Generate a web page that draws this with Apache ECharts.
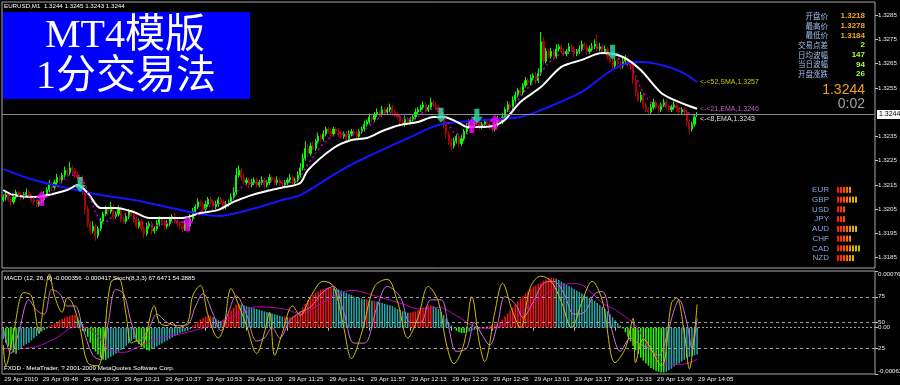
<!DOCTYPE html>
<html><head><meta charset="utf-8">
<script src="https://cdn.jsdelivr.net/npm/echarts@6/dist/echarts.min.js"></script>
<style>html,body{margin:0;padding:0;background:#000}#c{width:900px;height:385px}</style>
</head><body><div id="c"></div>
<script>
// ---------------- DATA (prices in pips above 1.3000) ----------------
const symbolName = 'EURUSD,M1';
const tickLabels = ['29 Apr 2010','29 Apr 09:48','29 Apr 10:05','29 Apr 10:21','29 Apr 10:37','29 Apr 10:53','29 Apr 11:09','29 Apr 11:25','29 Apr 11:41','29 Apr 11:57','29 Apr 12:13','29 Apr 12:29','29 Apr 12:45','29 Apr 13:01','29 Apr 13:17','29 Apr 13:33','29 Apr 13:49','29 Apr 14:05'];
const priceTicks = [1.3185,1.3195,1.3205,1.3215,1.3225,1.3235,1.3255,1.3265,1.3275,1.3285];
const macdTicks = [-0.00062, 0, 0.00076];
const stochTicks = [25, 50, 75];

const opens = [
209,210,211,209,208,210,212,211,210,211,
212,211,209,208,207,208,209,211,213,215,
214,216,218,217,219,221,220,222,221,219,
218,217,212,205,199,196,198,194,197,200,
203,205,204,206,202,203,205,201,200,202,
204,203,201,198,200,197,195,198,199,196,
197,199,201,200,198,199,201,202,200,199,
198,197,199,198,201,204,206,208,207,205,
207,209,208,206,207,209,208,206,207,208,
210,212,219,221,218,216,217,215,216,217,
215,216,217,215,216,218,217,216,217,216,
215,216,217,218,216,217,219,222,226,230,
228,231,230,233,235,234,236,238,237,236,
238,237,236,235,236,234,236,237,236,235,
237,238,240,241,243,242,244,245,244,246,
245,246,247,245,244,243,241,240,242,241,
242,243,245,246,247,248,246,247,249,248,
247,245,244,240,236,233,231,233,235,232,
234,237,239,241,240,242,241,239,240,241,
240,239,238,240,242,241,243,246,248,247,
250,252,254,253,256,258,257,259,260,258,
261,274,266,270,268,270,268,271,272,270,
269,270,272,271,269,270,271,273,272,270,
271,272,273,271,272,270,271,268,266,264,
266,265,264,266,267,265,264,258,253,250,
252,248,246,245,247,249,247,246,248,249,
247,246,247,248,246,245,246,245,241,238,
240,244];
const closes = [
210,211,209,208,210,212,211,210,211,212,
211,209,208,207,208,209,211,213,215,214,
216,218,217,219,221,220,222,221,219,218,
217,212,205,199,196,198,194,197,200,203,
205,204,206,202,203,205,201,200,202,204,
203,201,198,200,197,195,198,199,196,197,
199,201,200,198,199,201,202,200,199,198,
197,199,198,201,204,206,208,207,205,207,
209,208,206,207,209,208,206,207,208,210,
212,219,221,218,216,217,215,216,217,215,
216,217,215,216,218,217,216,217,216,215,
216,217,218,216,217,219,222,226,230,228,
231,230,233,235,234,236,238,237,236,238,
237,236,235,236,234,236,237,236,235,237,
238,240,241,243,242,244,245,244,246,245,
246,247,245,244,243,241,240,242,241,242,
243,245,246,247,248,246,247,249,248,247,
245,244,240,236,233,231,233,235,232,234,
237,239,241,240,242,241,239,240,241,240,
239,238,240,242,241,243,246,248,247,250,
252,254,253,256,258,257,259,260,258,261,
274,266,270,268,270,268,271,272,270,269,
270,272,271,269,270,271,273,272,270,271,
272,273,271,272,270,271,268,266,264,266,
265,264,266,267,265,264,258,253,250,252,
248,246,245,247,249,247,246,248,249,247,
246,247,248,246,245,246,245,241,238,240,
243,244];
const wickUp = [
1,1,0.5,1,1.5,1,0.5,1,1,1.5,
1,0.5,1,1,0.5,1,1.5,1,2,1,
1,1.5,1,1,1.5,1,2.5,1,1,1.5,
1,2,1,1.5,1,2,1,1,1.5,1,
1.5,1,2,1,1,1.5,1,1,1.5,1,
1,1,1.5,1,1,1,1.5,1,1,1,
1.5,1,1,1,1.5,1,1,1.5,1,1,
1,1.5,1,2,1.5,1,1.5,1,1,1.5,
1,1,1,1.5,1,1,1,1.5,1,1.5,
2,3,2,1,1.5,1,1,1.5,1,1,
1,1.5,1,1,1.5,1,1,1.5,1,1,
1,1,1.5,1,1,1.5,2,2,3,2,
1.5,2,1,1.5,1,1.5,1,1,1.5,1,
1,1.5,1,1,1,1.5,1,1,1.5,1,
1,1.5,1,1.5,1,1,1.5,1,1.5,1,
1,1.5,1,1,1,1,1,1.5,1,1,
1,1.5,1,1,1.5,1,1,2,1,1,
1,1.5,1,1,1,1,1.5,1,1,1.5,
1,1.5,1,1,1.5,1,1,1,1,1,
1,1,1,1.5,1,1.5,1,1.5,1,1.5,
1.5,1,1.5,1,1.5,1,1.5,1,1.5,2,
4,2,1.5,1,1.5,1,2,1,1,1.5,
1,1.5,1,1,1,1.5,1.5,1,1,1.5,
1.5,2,4,1.5,1,1.5,1,1,1,1.5,
1,1,1.5,1.5,1,1,1,1,1,1.5,
1,1,1,1.5,1.5,1,1,1,1.5,1,
1,1,1.5,1,1,1,1,1,1,1,
1,1];
const wickDn = [
1,1.5,1,2,1,1,1,1.5,1,1,
1,1,1.5,1,1,1,1,1,1,1.5,
1,1,1.5,1,1,1,1,1.5,1,1,
1,1,2,1.5,1.5,1,2,1,1,1,
1,1.5,1,1.5,1,1,1.5,1,1,1,
1,1.5,1,1,1.5,2,1,1,1.5,1,
1,1,1,1.5,1,1,1,1,1,1.5,
1.5,1,1.5,1,1,1,1,1,1.5,1,
1,1,1.5,1,1,1,1.5,1,1,1,
1,1,1,1.5,1,1,1.5,1,1,1,
1,1,1.5,1,1,1,1,1,1.5,1,
1,1,1,1.5,1,1,1,1,1,1.5,
1,1,1,1,1.5,1,1,1,1.5,1,
1,1.5,1,1,1.5,1,1,1,1.5,1,
1,1,1,1,1.5,1,1,1,1,1.5,
1,1,1.5,1,1,1.5,1,1,1,1,
1,1,1,1,1,1.5,1,1,1,1,
1,1,1.5,2,1.5,2,1,1,1.5,1,
1,1,1,1.5,1,1,1.5,1,1,1,
1,1.5,1,1,1,1,1,1,1,1,
1,1,1,1,1,1,1,1,1.5,1,
1,1.5,1,1,1,1.5,1,1,1,1,
1,1,1,1.5,1,1,1,1,1.5,1,
1,1,1,1,1.5,1,1.5,1,1.5,1,
1,1.5,1,1,1,1.5,1.5,1.5,1,1,
1.5,1,1,1,1,1,1.5,1,1,1,
1,1,1,1,1,1,1.5,1.5,2,1,
1,1];
// moving averages: [bar, pips]
const sma52 = [[0,221.5],[12,217],[25,213.7],[38,210.8],[51,208.8],[64,205.9],[77,203],[84,202.2],[91,203.4],[100,205.9],[109,208.8],[116,210.8],[132,221.1],[142,226.5],[159,234.7],[170,239.7],[187,241.7],[202,243],[213,247.1],[226,253.3],[236,261.1],[244,265.2],[249,265.6],[257,264.4],[265,261.5],[271,257.4]];
const ema21 = [[0,212.9],[4,210.8],[12,210],[25,212.9],[29,215],[33,211.7],[38,205.5],[44,205.5],[51,203.8],[57,201.4],[70,201.4],[77,203.4],[84,204.7],[90,208],[97,210.8],[103,212.5],[110,214.1],[116,215.8],[119,221.1],[129,230.2],[136,233.5],[142,234.3],[149,237.6],[155,239.7],[162,240.9],[168,243],[172,243],[178,240.5],[181,238.9],[188,238.9],[195,241],[202,249.2],[210,255.3],[218,263.6],[226,266.5],[234,269.3],[242,267.7],[249,262.3],[257,252.9],[265,248.7],[271,246.4]];
const ema8 = [[0,211],[5,210.5],[10,210.5],[14,208.5],[18,211],[22,215],[26,219],[30,218.5],[33,212],[36,204],[39,199],[43,202],[48,203],[53,200],[58,198],[63,199],[68,200],[72,199],[76,203],[80,206],[85,207.5],[89,208],[92,213],[96,215.5],[100,216],[105,216.5],[110,216],[115,217],[118,222],[122,228],[126,233],[131,236],[136,235.5],[140,237],[145,241],[150,245],[155,243],[160,242],[165,245.5],[170,246.5],[173,242],[177,236],[181,236],[185,239.5],[190,240],[195,242],[199,247],[204,254],[208,258],[212,264],[216,268],[220,269.5],[225,270.5],[230,271.5],[234,271.5],[238,268],[242,266],[246,262],[249,255],[253,249],[258,247.5],[263,247],[267,245],[271,243]];
const buySignals = [[15,209.4],[72,199],[183,239.5],[192,240.8]];
const sellSignals = [[30,215.2],[171,243.7],[185,243.3],[238,269.7]];
// MACD histogram (units of 0.00001)
const macdHist = [
-15,-20,-25,-30,-33,-35,-30,-27,-24,-22,
-20,-17,-14,-11,-8,-5,-3,-1,2,4,
6,8,10,12,13,15,16,17,17,14,
10,5,-5,-12,-20,-27,-32,-36,-40,-43,
-43,-41,-39,-37,-35,-32,-30,-27,-24,-21,
-18,-15,-18,-22,-26,-28,-30,-31,-29,-27,
-25,-23,-21,-19,-17,-15,-13,-11,-9,-7,
-6,-5,-4,-2,2,5,8,11,13,15,
16,16,14,12,10,9,11,15,19,23,
27,31,32,31,30,29,28,27,26,25,
24,23,22,21,20,19,18,17,16,15,
15,14,14,15,16,18,22,27,32,37,
41,44,47,49,51,52,53,54,54,53,
52,51,50,48,47,45,44,42,41,40,
39,38,38,37,36,36,35,34,33,32,
31,30,29,27,25,24,22,21,20,20,
21,22,24,26,27,28,29,30,29,27,
25,21,17,12,7,3,-1,-4,-6,-7,
-7,-6,-5,-4,-3,-2,-1,0,1,2,
3,4,5,6,8,11,15,19,23,27,
31,35,39,43,46,49,52,55,57,59,
61,63,65,66,67,67,66,64,62,60,
58,56,54,52,50,48,46,44,42,40,
38,36,33,30,28,25,22,18,14,10,
6,3,-1,-6,-12,-18,-24,-30,-35,-40,
-44,-48,-51,-54,-56,-58,-59,-60,-60,-59,
-57,-55,-52,-50,-48,-45,-43,-41,-39,-38,
-37,-36];
const macdSignal = [[0,-28],[10,-27],[20,-15],[29,2],[35,-5],[42,-30],[47,-33],[53,-25],[60,-15],[72,-6],[82,4],[90,15],[99,28],[110,25],[116,19],[122,28],[130,44],[136,50],[145,43],[155,33],[163,25],[170,27],[177,16],[184,2],[190,-1],[196,5],[204,25],[212,45],[218,57],[224,59],[230,46],[234,33],[238,26],[242,17],[247,3],[253,-30],[260,-49],[265,-49],[271,-42]];
const stochK = [[0,28],[1,8],[4,40],[8,79],[11,76],[14,40],[16,73],[18,97],[20,76],[23,60],[25,74],[27,69],[30,44],[33,11],[37,8],[39,28],[42,89],[45,93],[48,57],[50,30],[52,32],[54,28],[59,66],[61,50],[64,47],[66,50],[68,45],[72,50],[74,76],[77,86],[80,57],[84,35],[86,44],[89,83],[91,73],[95,47],[99,20],[102,40],[104,60],[106,18],[109,40],[113,66],[116,57],[120,75],[125,90],[129,85],[133,45],[136,15],[140,40],[145,85],[150,92],[154,70],[158,35],[162,55],[166,85],[170,70],[173,30],[176,10],[180,30],[183,75],[186,30],[188,12],[192,60],[195,88],[199,60],[202,45],[206,85],[210,95],[214,90],[218,70],[222,45],[226,70],[230,90],[234,71],[239,11],[243,25],[246,54],[247,11],[250,34],[257,8],[261,69],[263,74],[266,40],[268,5],[270,40],[271,67.6]];
const stochD = [[0,45],[3,20],[6,40],[10,72],[13,62],[16,58],[19,82],[22,78],[25,66],[28,66],[31,45],[35,18],[38,14],[41,50],[44,82],[47,78],[50,50],[53,32],[57,45],[60,58],[64,50],[68,47],[72,48],[75,65],[78,78],[82,58],[85,42],[88,60],[91,76],[95,58],[99,32],[102,35],[105,45],[108,35],[112,52],[116,60],[120,65],[125,80],[129,85],[133,60],[137,30],[141,30],[146,65],[150,85],[155,75],[159,50],[163,50],[167,72],[171,72],[174,45],[177,22],[181,25],[184,50],[187,38],[190,28],[193,48],[196,75],[200,68],[203,55],[207,70],[211,88],[215,90],[219,78],[223,58],[227,60],[231,78],[234,80],[238,40],[241,22],[245,35],[248,30],[252,25],[256,18],[259,35],[262,62],[264,72],[267,50],[269,25],[271,54.3]];
const currencies = ['EUR','GBP','USD','JPY','AUD','CHF','CAD','NZD'];
const strength = [5,7,3,3,7,5,8,6];
const infoLabels = ['开盘价','最高价','最低价','交易点差','日均波幅','当日波幅','开盘涨跌'];
const infoValues = ['1.3218','1.3278','1.3184','2','147','94','26'];
const bidText = '1.3244';
const timerText = '0:02';
const macdTitle = 'MACD (12, 26, 9) -0.000356 -0.000417 Stoch(8,3,3) 67.6471 54.2885';
const footerText = 'FXDD - MetaTrader, ? 2001-2009 MetaQuotes Software Corp.';
const titleLines = ['MT4模版', '1分交易法'];

// ---------------- BUILD ----------------
const BASE = 1.3, PIP = 0.0001, MUNIT = 0.00001;
const SLOTS = 341, FIRST_TICK_BAR = 15, TICK_STEP = 16;
function hasFont(name) {
  const c = document.createElement('canvas').getContext('2d');
  const t = 'mmmmmwwwwiiiil1.3244 Apr EURUSD';
  c.font = '20px monospace'; const a = c.measureText(t).width;
  c.font = '20px "' + name + '", monospace'; const b = c.measureText(t).width;
  return Math.abs(a - b) > 0.5;
}
const HAS_NARROW = hasFont('Liberation Sans Narrow');
const FONT = "'Liberation Sans', Arial, sans-serif";
const SMALL_FONT = HAS_NARROW ? "'Liberation Sans Narrow', 'Liberation Sans', sans-serif" : FONT;
const SMALL = HAS_NARROW ? 7.5 : 6.2;
const CJK = "'Noto Sans CJK SC', sans-serif";
const px = v => +(BASE + v * PIP).toFixed(6);
const fx = v => (BASE + v * PIP).toFixed(4);

const candleData = closes.map((c, i) => {
  const o = opens[i];
  return [px(o), px(c), px(Math.min(o, c) - wickDn[i]), px(Math.max(o, c) + wickUp[i])];
});
const last = closes.length - 1;
const headerText = symbolName + '  ' + fx(opens[last]) + ' ' + fx(Math.max(opens[last], closes[last]) + wickUp[last]) + ' ' + fx(Math.min(opens[last], closes[last]) - wickDn[last]) + ' ' + fx(closes[last]);

const slotLabel = new Array(SLOTS).fill('');
slotLabel[0] = tickLabels[0];
for (let k = 1; k < tickLabels.length; k++) slotLabel[FIRST_TICK_BAR + (k - 1) * TICK_STEP] = tickLabels[k];
const categories = slotLabel.map((_, i) => String(i));

const toPrice = arr => arr.map(p => [p[0], px(p[1])]);
const histData = macdHist.map((v, i) => {
  const prev = i > 0 ? macdHist[i - 1] : null;
  let col = '#2aa8a8';
  if (prev !== null) {
    if (v >= 0 && v >= prev) col = '#ff1010';
    else if (v < 0 && v <= prev) col = '#22ff00';
  }
  return { value: v * MUNIT, itemStyle: { color: col } };
});
const barPalette = ['#ff1a00','#ff3000','#ff5000','#ff7000','#ff9000','#f0b000','#d0c000','#b0c800','#90c800'];

const upArrow = 'path://M6,0 L12,7 L8.5,7 L8.5,15 L3.5,15 L3.5,7 L0,7 Z';
const downArrow = 'path://M3.5,0 L8.5,0 L8.5,8 L12,8 L6,15 L0,8 L3.5,8 Z';

const graphics = [
  { type: 'text', x: 4, y: 6, z: 100, style: { text: headerText, fill: '#ffffff', font: SMALL + 'px ' + SMALL_FONT, verticalAlign: 'middle' } },
  { type: 'rect', z: 90, shape: { x: 3, y: 12, width: 247, height: 87 }, style: { fill: '#0000ff' } },
  { type: 'text', x: 125, y: 36, z: 100, style: { text: titleLines[0], fill: '#ffffff', font: "40px 'Liberation Serif', 'Noto Sans CJK SC', serif", align: 'center', verticalAlign: 'middle' } },
  { type: 'text', x: 126, y: 77, z: 100, style: { text: titleLines[1], fill: '#ffffff', font: "40px 'Liberation Serif', 'Noto Sans CJK SC', serif", align: 'center', verticalAlign: 'middle' } },
  { type: 'text', x: 865, y: 90, z: 100, style: { text: bidText, fill: '#f0a020', font: '14px ' + FONT, align: 'right', verticalAlign: 'middle' } },
  { type: 'text', x: 865, y: 104, z: 100, style: { text: timerText, fill: '#a0a0a0', font: '14px ' + FONT, align: 'right', verticalAlign: 'middle' } },
  { type: 'text', x: 4, y: 278, z: 100, style: { text: macdTitle, fill: '#ffffff', font: SMALL + 'px ' + SMALL_FONT, verticalAlign: 'middle' } },
  { type: 'text', x: 4, y: 368, z: 100, style: { text: footerText, fill: '#ffffff', font: SMALL + 'px ' + SMALL_FONT, verticalAlign: 'middle' } }
];
infoLabels.forEach((t, i) => {
  graphics.push({ type: 'text', x: 828, y: 16 + i * 9.67, z: 100, style: { text: t, fill: '#9ec0e8', font: '7.5px ' + CJK, align: 'right', verticalAlign: 'middle' } });
  graphics.push({ type: 'text', x: 865, y: 16 + i * 9.67, z: 100, style: { text: infoValues[i], fill: i < 3 ? '#f5a623' : '#a8ff30', font: 'bold 8px ' + FONT, align: 'right', verticalAlign: 'middle' } });
});

const axisText = { color: '#e8e8e8', fontSize: SMALL, fontFamily: SMALL_FONT };

const option = {
  backgroundColor: '#000000',
  animation: false,
  graphic: graphics,
  grid: [
    { left: 2, right: 25, top: 2, height: 266, show: true, borderColor: '#a8a8a8', borderWidth: 1, containLabel: false, outerBoundsMode: 'none' },
    { left: 2, right: 25, top: 271, height: 103, show: true, borderColor: '#a8a8a8', borderWidth: 1, containLabel: false, outerBoundsMode: 'none' },
    { left: 837, top: 185, width: 36, height: 78, containLabel: false, outerBoundsMode: 'none' }
  ],
  xAxis: [
    { type: 'category', gridIndex: 0, data: categories, boundaryGap: true, show: false },
    { type: 'category', gridIndex: 1, data: categories, boundaryGap: true,
      axisLine: { show: false },
      axisTick: { show: true, alignWithLabel: true, length: 3, interval: (i) => i > 0 && slotLabel[i] !== '', lineStyle: { color: '#c0c0c0' } },
      axisLabel: Object.assign({ interval: (i) => slotLabel[i] !== '', formatter: (v, i) => slotLabel[+v], align: 'left', margin: 2, padding: [0, 0, 0, 1] }, axisText),
      splitLine: { show: false } },
    { type: 'value', gridIndex: 2, min: 0, max: 12, show: false }
  ],
  yAxis: [
    { type: 'value', gridIndex: 0, position: 'right', min: 1.318076, max: 1.329036, scale: true,
      splitLine: { show: false }, axisLine: { show: false },
      axisTick: { show: true, length: 3, customValues: priceTicks, lineStyle: { color: '#c0c0c0' } },
      axisLabel: Object.assign({ customValues: priceTicks, formatter: v => v.toFixed(4), margin: 3 }, axisText) },
    { type: 'value', gridIndex: 1, position: 'right', min: -0.00062, max: 0.00076,
      splitLine: { show: false }, axisLine: { show: false },
      axisTick: { show: true, length: 3, customValues: macdTicks, lineStyle: { color: '#c0c0c0' } },
      axisLabel: Object.assign({ customValues: macdTicks, formatter: v => (v === 0 ? '0.00' : String(+v.toFixed(5))), margin: 3, verticalAlignMaxLabel: 'top', verticalAlignMinLabel: 'bottom' }, axisText) },
    { type: 'value', gridIndex: 1, position: 'right', offset: 0, min: 0, max: 100,
      splitLine: { show: false }, axisLine: { show: false },
      axisTick: { show: true, length: 3, customValues: stochTicks, lineStyle: { color: '#c0c0c0' } },
      axisLabel: Object.assign({ customValues: stochTicks, margin: 3 }, axisText) },
    { type: 'category', gridIndex: 2, data: currencies, inverse: true, position: 'left',
      axisLine: { show: false }, axisTick: { show: false }, splitLine: { show: false },
      axisLabel: { interval: 0, color: '#86a9d6', fontSize: 8, fontFamily: FONT, margin: 8 } }
  ],
  series: [
    { type: 'candlestick', xAxisIndex: 0, yAxisIndex: 0, data: candleData, barWidth: 1.6,
      itemStyle: { color: '#00ff00', color0: '#b40000', borderColor: '#00ff00', borderColor0: '#b40000', borderWidth: 1 } },
    { type: 'line', name: 'SMA52', xAxisIndex: 0, yAxisIndex: 0, data: toPrice(sma52), smooth: 0.3, symbol: 'none',
      lineStyle: { color: '#1414ff', width: 2 },
      endLabel: { show: true, formatter: p => '<-<52,SMA,' + p.value[1].toFixed(4), color: '#c8c800', fontSize: 7, fontFamily: FONT, distance: 3 },
      markLine: { silent: true, symbol: 'none', animation: false, precision: 6,
        lineStyle: { color: '#8c8c8c', type: 'solid', width: 1 },
        label: { show: true, position: 'end', formatter: bidText, color: '#000', backgroundColor: '#ffffff', fontSize: 7, fontFamily: FONT, padding: [1, 2, 1, 2], distance: 2 },
        data: [{ yAxis: px(closes[last]) }] } },
    { type: 'line', name: 'EMA21', xAxisIndex: 0, yAxisIndex: 0, data: toPrice(ema21), smooth: 0.3, symbol: 'none',
      lineStyle: { color: '#ffffff', width: 2 },
      endLabel: { show: true, formatter: p => '<-<21,EMA,' + p.value[1].toFixed(4), color: '#c860c8', fontSize: 7, fontFamily: FONT, distance: 3 } },
    { type: 'line', name: 'EMA8', xAxisIndex: 0, yAxisIndex: 0, data: toPrice(ema8), smooth: 0.3, symbol: 'none',
      lineStyle: { color: '#c000c0', width: 1.5, type: [2, 3] },
      endLabel: { show: true, formatter: p => '<-<8,EMA,' + p.value[1].toFixed(4), color: '#e0e0e0', fontSize: 7, fontFamily: FONT, distance: 3, offset: [0, 2] } },
    { type: 'scatter', xAxisIndex: 0, yAxisIndex: 0, data: toPrice(buySignals), symbol: upArrow, symbolSize: [12, 15], itemStyle: { color: '#ff00ff' }, z: 5 },
    { type: 'scatter', xAxisIndex: 0, yAxisIndex: 0, data: toPrice(sellSignals), symbol: downArrow, symbolSize: [12, 15], itemStyle: { color: '#30e0b0' }, z: 5 },
    { type: 'bar', xAxisIndex: 1, yAxisIndex: 1, data: histData, barWidth: 1.5,
      markLine: { silent: true, symbol: 'none', animation: false, precision: 6, label: { show: false },
        lineStyle: { color: '#a0a0a0', type: [2, 2], width: 1 }, data: [{ yAxis: 0 }] } },
    { type: 'line', xAxisIndex: 1, yAxisIndex: 1, data: macdSignal.map(p => [p[0], p[1] * MUNIT]), smooth: 0.4, symbol: 'none',
      lineStyle: { color: '#c000c0', width: 1 } },
    { type: 'line', xAxisIndex: 1, yAxisIndex: 2, data: stochD, smooth: 0.35, symbol: 'none',
      lineStyle: { color: '#d070d0', width: 1 } },
    { type: 'line', xAxisIndex: 1, yAxisIndex: 2, data: stochK, smooth: 0.35, symbol: 'none',
      lineStyle: { color: '#d0c000', width: 1 },
      markLine: { silent: true, symbol: 'none', animation: false, label: { show: false },
        lineStyle: { color: '#a0a0a0', type: [3, 3], width: 1 }, data: stochTicks.map(v => ({ yAxis: v })) } },
    { type: 'custom', xAxisIndex: 2, yAxisIndex: 3, data: strength.map((s, i) => [s, i]), encode: { x: 0, y: 1 },
      renderItem: (params, api) => {
        const n = api.value(0), cat = api.value(1);
        const w = api.size([1, 0])[0];
        const children = [];
        for (let k = 0; k < n; k++) {
          const p = api.coord([k, cat]);
          children.push({ type: 'rect', shape: { x: p[0], y: p[1] - 3, width: w * 0.67, height: 6 }, style: { fill: barPalette[k] } });
        }
        return { type: 'group', children };
      } }
  ]
};
const chart = echarts.init(document.getElementById('c'), null, { renderer: 'canvas' });
chart.setOption(option);
</script></body></html>
